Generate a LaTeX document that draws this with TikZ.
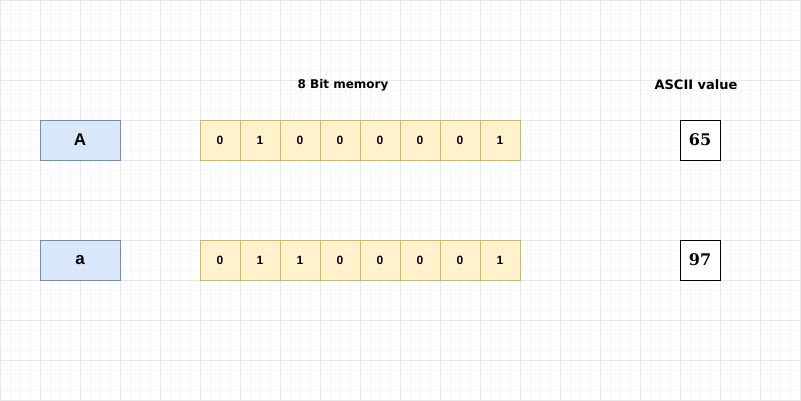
\documentclass[tikz,border=0pt]{standalone}
\usepackage{fontspec}
\setmainfont{DejaVu Sans}
\newfontfamily\cellfont{Liberation Sans}
\newfontfamily\numfont{DejaVu Serif}
\begin{document}
\begin{tikzpicture}[x=1pt,y=-1pt,
  minorgrid/.style={draw={rgb,255:red,246;green,246;blue,246},line width=0.5pt},
  majorgrid/.style={draw={rgb,255:red,232;green,232;blue,232},line width=0.7pt},
  charbox/.style={draw={rgb,255:red,108;green,142;blue,191}, fill={rgb,255:red,218;green,232;blue,252}, line width=0.8pt, minimum width=80pt, minimum height=40pt, inner sep=0pt, font=\cellfont\bfseries\fontsize{17}{19}\selectfont},
  bitcell/.style={draw={rgb,255:red,214;green,182;blue,86}, fill={rgb,255:red,255;green,242;blue,204}, line width=0.8pt, minimum width=40pt, minimum height=40pt, inner sep=0pt, font=\cellfont\bfseries\fontsize{12}{14}\selectfont},
  valbox/.style={draw=black, fill=white, line width=1pt, minimum width=40pt, minimum height=40pt, inner sep=0pt, font=\numfont\bfseries\fontsize{16}{18}\selectfont},
  heading/.style={font=\bfseries\fontsize{12}{14}\selectfont, inner sep=0pt}]
\useasboundingbox (0,0) rectangle (801,400);
\fill[white] (0,0) rectangle (801,400);
\foreach \i in {0,10,...,800} {\draw[minorgrid] (\i,0) -- (\i,400);}
\foreach \j in {0,10,...,400} {\draw[minorgrid] (0,\j) -- (801,\j);}
\foreach \i in {0,40,...,800} {\draw[majorgrid] (\i,0) -- (\i,400);}
\foreach \j in {0,40,...,400} {\draw[majorgrid] (0,\j) -- (801,\j);}
\node[heading] (mem) at (343,85) {8 Bit memory};
\node[heading, font=\bfseries\fontsize{13}{15}\selectfont] (asc) at (696,85) {ASCII value};
\node[charbox] (cA) at (80,140) {A};
\node[charbox] (ca) at (80,260) {a};
\foreach \b [count=\k from 0] in {0,1,0,0,0,0,0,1} {
  \node[bitcell] (u\k) at (220+40*\k,140) {\b};
}
\foreach \b [count=\k from 0] in {0,1,1,0,0,0,0,1} {
  \node[bitcell] (l\k) at (220+40*\k,260) {\b};
}
\node[valbox] (v65) at (700,140) {65};
\node[valbox] (v97) at (700,260) {97};
\end{tikzpicture}
\end{document}
